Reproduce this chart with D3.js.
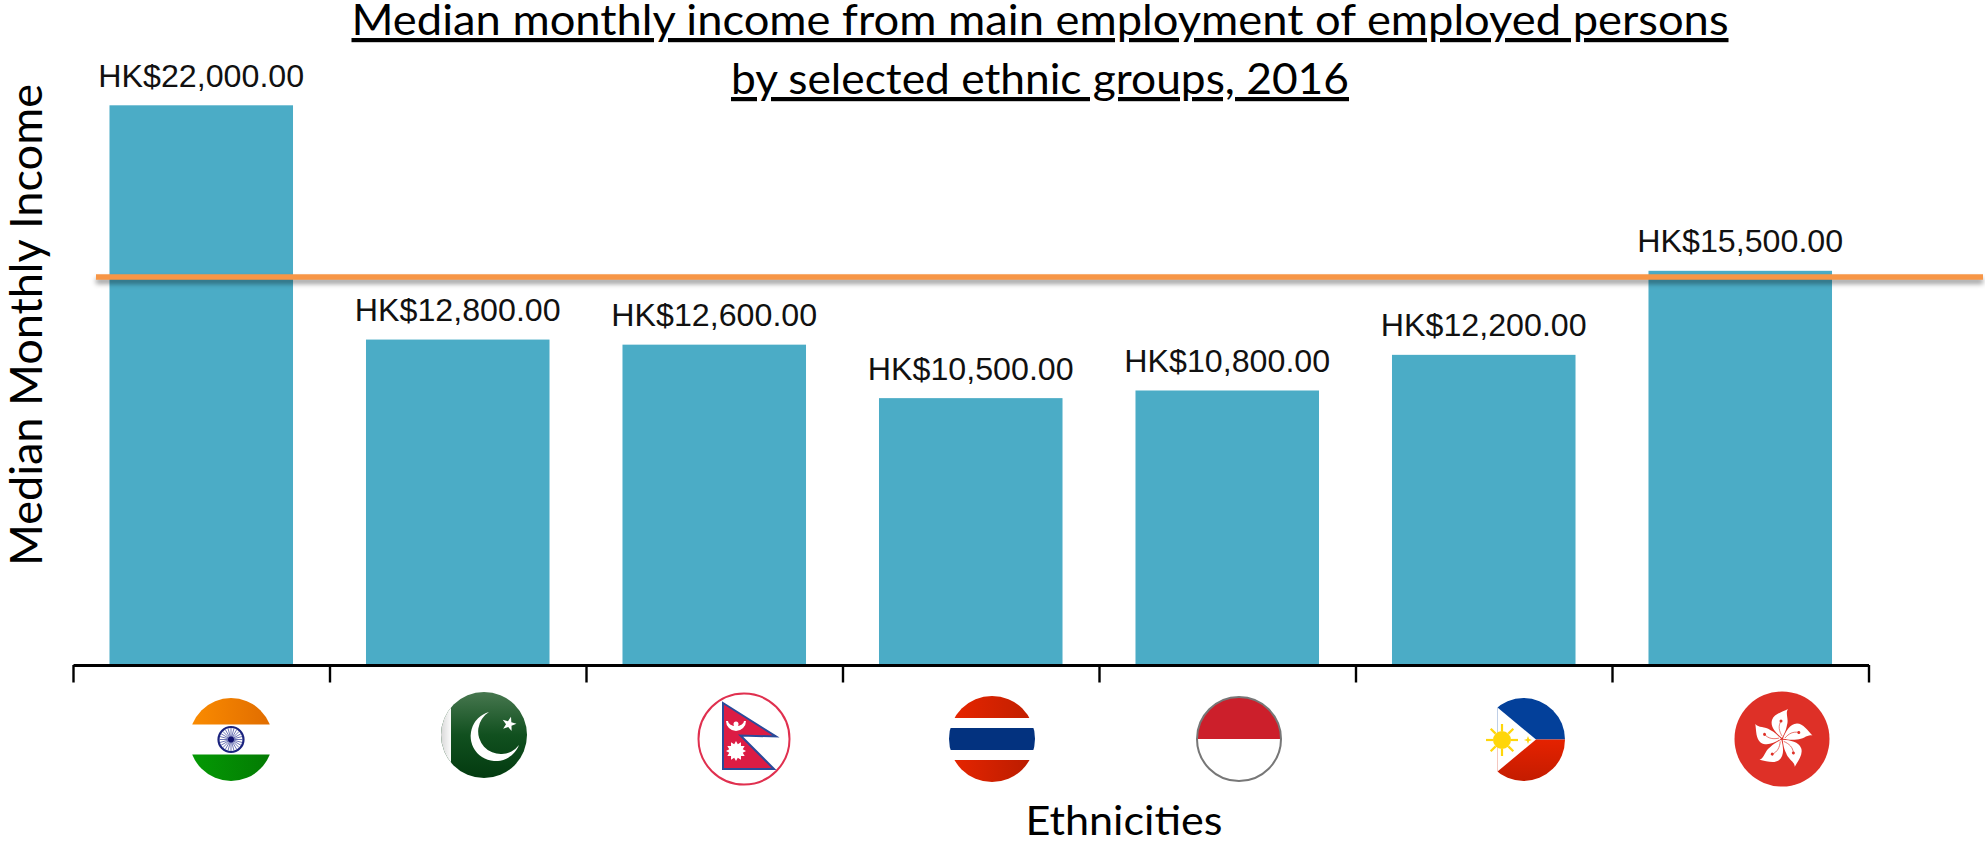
<!DOCTYPE html>
<html><head><meta charset="utf-8">
<script src="https://cdn.jsdelivr.net/npm/d3@7"></script>
<style>html,body{margin:0;padding:0;background:#fff}svg{display:block}</style>
</head><body><div id="chart"></div>
<script>
const categories = ["India","Pakistan","Nepal","Thailand","Indonesia","Philippines","Hong Kong"];
const incomes = [22000,12800,12600,10500,10800,12200,15500];
const referenceLine = 15260;
const titleLines = ["Median monthly income from main employment of employed persons","by selected ethnic groups, 2016"];
const yTitle = "Median Monthly Income";
const xTitle = "Ethnicities";

const W=1985,H=843;
const svg=d3.select("#chart").append("svg").attr("width",W).attr("height",H);
const defs=svg.append("defs");
const x=d3.scaleBand().domain(categories).range([73,1868.5]).paddingInner(0.2845).paddingOuter(0.14225);
const edge=d3.scaleLinear().domain([0,categories.length]).range([73,1868.5]);
const y=d3.scaleLinear().domain([0,22000]).range([665.5,105.3]);
const fmt=d3.format(",.2f");

// bars
svg.append("g").selectAll("rect").data(incomes).join("rect")
 .attr("x",(d,i)=>x(categories[i])).attr("width",x.bandwidth())
 .attr("y",d=>y(d)).attr("height",d=>y(0)-y(d)).attr("fill","#4bacc6");

// labels
svg.append("g").selectAll("text").data(incomes).join("text")
 .attr("x",(d,i)=>x(categories[i])+x.bandwidth()/2).attr("y",d=>y(d)-18.5)
 .attr("text-anchor","middle").attr("font-family","'Liberation Sans'").attr("font-size",32.2)
 .attr("fill","#111").text(d=>"HK$"+fmt(d));

// reference line with shadow
const sh=defs.append("filter").attr("id","sh").attr("filterUnits","userSpaceOnUse")
 .attr("x",0).attr("y",240).attr("width",W).attr("height",80).attr("color-interpolation-filters","sRGB");
sh.append("feDropShadow").attr("dx",0).attr("dy",4).attr("stdDeviation",2.5).attr("flood-color","#000").attr("flood-opacity",0.4);
svg.append("line").attr("x1",96).attr("x2",1983).attr("y1",y(referenceLine)).attr("y2",y(referenceLine))
 .attr("stroke","#f79646").attr("stroke-width",5.5).attr("filter","url(#sh)");

// axis
const ax=svg.append("g").attr("transform","translate(0,665)")
 .call(d3.axisBottom(edge).tickValues(d3.range(categories.length+1)).tickFormat("").tickSize(17.5).tickSizeOuter(0));
ax.selectAll("path").attr("stroke","#000").attr("stroke-width",3);
ax.selectAll("line").attr("stroke","#000").attr("stroke-width",2.4);

// titles
svg.append("g").selectAll("text").data(titleLines).join("text")
 .attr("x",1040).attr("y",(d,i)=>35+i*59).attr("text-anchor","middle")
 .attr("font-family","Lato").attr("font-size",42).attr("fill","#000")
 .style("text-decoration","underline").style("text-decoration-skip-ink","none")
 .attr("textLength",(d,i)=>i?618:1377).attr("lengthAdjust","spacingAndGlyphs").text(d=>d);
svg.append("text").attr("transform","translate(42,325) rotate(-90)").attr("text-anchor","middle")
 .attr("font-family","Lato").attr("font-size",44).attr("fill","#000")
 .attr("textLength",482).attr("lengthAdjust","spacingAndGlyphs").text(yTitle);
svg.append("text").attr("x",1124).attr("y",835).attr("text-anchor","middle")
 .attr("font-family","Lato").attr("font-size",40).attr("fill","#000")
 .attr("textLength",197).attr("lengthAdjust","spacingAndGlyphs").text(xTitle);

// flags
function grad(id,a,b){const g=defs.append("linearGradient").attr("id",id);
 g.append("stop").attr("offset",0).attr("stop-color",a);g.append("stop").attr("offset",1).attr("stop-color",b);return `url(#${id})`;}
function vgrad(id,...cols){const g=defs.append("linearGradient").attr("id",id).attr("x2",0).attr("y2",1);
 cols.forEach((col,i)=>g.append("stop").attr("offset",i/(cols.length-1)).attr("stop-color",col));return `url(#${id})`;}
function starPts(n,R,r,rot=-Math.PI/2){return d3.range(n*2).map(i=>{const a=rot+i*Math.PI/n,q=i%2?r:R;return [q*Math.cos(a),q*Math.sin(a)].join(",")}).join(" ");}
function flag(name,cx,cy,r){
 const g=svg.append("g").attr("transform",`translate(${cx},${cy})`).attr("class","flag").attr("data-name",name);
 const id="c"+name.replace(/\s/g,"");
 defs.append("clipPath").attr("id",id).append("circle").attr("r",r);
 const c=g.append("g").attr("clip-path",`url(#${id})`);
 return {g,c};
}
const flagDrawers={
 India(){const r=41.5,{g,c}=flag("India",231,739.5,r);
  c.append("rect").attr("x",-r).attr("y",-r).attr("width",2*r).attr("height",r-15).attr("fill",grad("in1","#fb8c00","#e06c00"));
  c.append("rect").attr("x",-r).attr("y",15).attr("width",2*r).attr("height",r-15).attr("fill",grad("in2","#049a04","#037a03"));
  g.append("circle").attr("r",12.5).attr("fill","#fff").attr("stroke","#1a237e").attr("stroke-width",2.2);
  d3.range(24).forEach(i=>{const a=i*Math.PI/12;g.append("line").attr("x2",11.5*Math.cos(a)).attr("y2",11.5*Math.sin(a)).attr("stroke","#2f3a94").attr("stroke-width",.7);});
  g.append("circle").attr("r",3).attr("fill","#10106e");
 },
 Pakistan(){const r=43,{g,c}=flag("Pakistan",484,735,r);
  c.append("rect").attr("x",-r).attr("y",-r).attr("width",2*r).attr("height",2*r).attr("fill",vgrad("pk","#47774f","#11501f","#033b10"));
  c.append("rect").attr("x",-r).attr("y",-r).attr("width",10).attr("height",2*r).attr("fill",grad("pk2","#d8d8d8","#fbfbfb"));
  g.append("path").attr("fill","#fff").attr("d","M5,-23 A25,25 0 1 0 35,10 A22.7,22.7 0 1 1 5,-23 Z");
  g.append("polygon").attr("points",starPts(5,7.5,3,-1.3)).attr("transform","translate(25,-11)").attr("fill","#fff");
 },
 Nepal(){const r=45.5,{g}=flag("Nepal",744,739,r);
  g.append("circle").attr("r",r).attr("fill","#fff").attr("stroke","#e0304f").attr("stroke-width",2);
  g.append("path").attr("d","M-21,-36 L32,-2.5 L-3.5,-3.5 L30,30 L-21,30 Z").attr("fill","#dc1c44").attr("stroke","#2a4a9a").attr("stroke-width",2);
  g.append("path").attr("d","M-17,-18 A9,9 0 0 0 1,-18 A9,6 0 0 1 -17,-18 Z").attr("fill","#fff").attr("stroke","#fff").attr("stroke-width",2);
  g.append("circle").attr("cx",-8).attr("cy",-15).attr("r",2.5).attr("fill","#fff");
  g.append("polygon").attr("points",starPts(12,10,7)).attr("transform","translate(-8,12)").attr("fill","#fff");
 },
 Thailand(){const r=43,{c}=flag("Thailand",992,739,r);
  c.append("rect").attr("x",-r).attr("y",-r).attr("width",2*r).attr("height",r-21).attr("fill",grad("th1","#e82500","#c01f00"));
  c.append("rect").attr("x",-r).attr("y",-11).attr("width",2*r).attr("height",22).attr("fill","#03327f");
  c.append("rect").attr("x",-r).attr("y",21).attr("width",2*r).attr("height",r-21).attr("fill",grad("th2","#e82500","#b81c00"));
 },
 Indonesia(){const r=42,{g,c}=flag("Indonesia",1239,739,r);
  c.append("rect").attr("x",-r).attr("y",-r).attr("width",2*r).attr("height",r).attr("fill","#cc1f2b");
  g.append("circle").attr("r",r).attr("fill","none").attr("stroke","#777").attr("stroke-width",2);
 },
 Philippines(){const r=41.5,{g,c}=flag("Philippines",1523.5,739.5,r);
  c.append("rect").attr("x",-26).attr("y",-r).attr("width",26+r).attr("height",r).attr("fill","#03409a");
  c.append("rect").attr("x",-26).attr("y",0).attr("width",26+r).attr("height",r).attr("fill",vgrad("ph","#e52200","#c41c00"));
  c.append("polygon").attr("points","-26,-32 12.5,0 -26,32").attr("fill","#fff");
  const s=g.append("g").attr("transform","translate(-21.5,0.5)");
  s.append("circle").attr("r",9).attr("fill","#ffd60a");
  d3.range(8).forEach(i=>{const a=i*Math.PI/4;s.append("line").attr("x1",9*Math.cos(a)).attr("y1",9*Math.sin(a)).attr("x2",16*Math.cos(a)).attr("y2",16*Math.sin(a)).attr("stroke","#ffd60a").attr("stroke-width",2.2);});
  g.append("polygon").attr("points",starPts(4,4,1.5)).attr("transform","translate(4.5,0.5)").attr("fill","#ffd60a");
 },
 "Hong Kong"(){const r=47.5,{g}=flag("Hong Kong",1782,739,r);
  g.append("circle").attr("r",r).attr("fill","#de3027");
  d3.range(5).forEach(i=>{
   const p=g.append("g").attr("transform",`rotate(${i*72})`);
   p.append("path").attr("d","M0,-1 C-6,-6 -12,-12 -10,-19 C-8,-25 0,-27 6,-30 C3,-26 7,-20 5,-14 C4,-8 2,-5 0,-1 Z").attr("fill","#fff");
   p.append("circle").attr("cx",-1).attr("cy",-18).attr("r",1.5).attr("fill","#de3027");
   p.append("path").attr("d","M0,-3 C-3,-8 -4,-13 -1,-18").attr("fill","none").attr("stroke","#de3027").attr("stroke-width",.6);
  });
 }
};
categories.forEach(k=>flagDrawers[k]());
</script></body></html>
